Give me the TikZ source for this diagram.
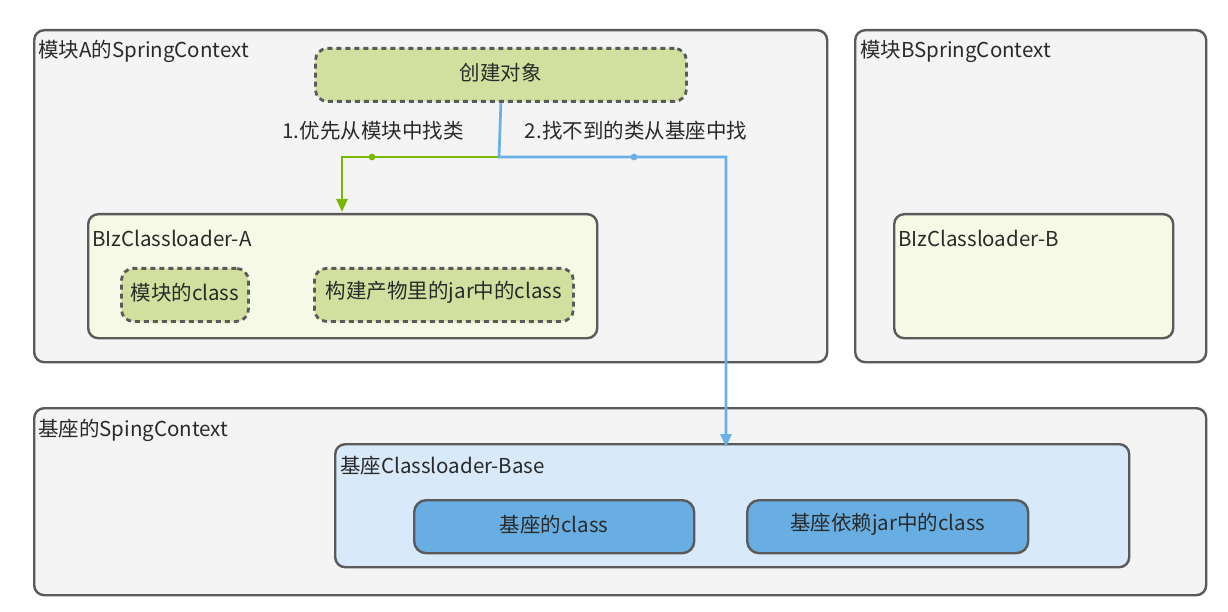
\documentclass[tikz,border=0pt]{standalone}
\usepackage{fontspec}
\setmainfont{Noto Sans CJK SC}
\usetikzlibrary{arrows.meta,calc}
\definecolor{ctxfill}{HTML}{F4F4F4}
\definecolor{bord}{HTML}{5A5A5A}
\definecolor{gfill}{HTML}{D1DF9F}
\definecolor{lgfill}{HTML}{F6F9E6}
\definecolor{lbfill}{HTML}{D8E9F9}
\definecolor{bfill}{HTML}{68AEE2}
\definecolor{txt}{HTML}{2A2A2A}
\definecolor{gline}{HTML}{7AB800}
\definecolor{bline}{HTML}{6AB0E6}
\tikzset{
  x=1pt, y=-1pt,
  every node/.style={text=txt, font=\fontsize{20.5}{24}\selectfont, inner sep=0pt},
  ctxbox/.style={draw=bord, line width=2.4pt, fill=ctxfill, rounded corners=10pt, anchor=north west},
  loaderbox/.style={draw=bord, line width=2.4pt, rounded corners=10pt, anchor=north west},
  dashbox/.style={draw=bord, line width=2.8pt, fill=gfill, rounded corners=12pt, dash pattern=on 5pt off 4pt, anchor=north west},
  bluebox/.style={draw=bord, line width=2.4pt, fill=bfill, rounded corners=12pt, anchor=north west},
  lbl/.style={anchor=west},
  ctext/.style={yshift=2.5pt},
  gconn/.style={draw=gline, line width=2.7pt},
  bconn/.style={draw=bline, line width=2.7pt},
  tip/.style={-{Triangle[length=13pt,width=11pt]}}
}
\begin{document}
\begin{tikzpicture}
\useasboundingbox[fill=white] (0,0) rectangle (1228,612);
% contexts
\node[ctxbox, minimum width=793pt, minimum height=332pt] (ctxA) at (33,29) {};
\node[lbl] (ctxAl) at (38,51) {模块A的SpringContext};
\node[ctxbox, minimum width=351pt, minimum height=332pt] (ctxB) at (854,29) {};
\node[lbl] (ctxBl) at (860,51) {模块BSpringContext};
\node[ctxbox, minimum width=1172pt, minimum height=187pt] (ctxBase) at (33,407) {};
\node[lbl] (ctxBasel) at (38,430) {基座的SpingContext};
% create node
\node[dashbox, minimum width=371pt, minimum height=53pt] (create) at (314,47) {};
\node[ctext] (createl) at (create.center) {创建对象};
% loader A
\node[loaderbox, fill=lgfill, minimum width=509pt, minimum height=124pt] (loaderA) at (87,213) {};
\node[lbl] (loaderAl) at (92,238) {BIzClassloader-A};
\node[dashbox, minimum width=127pt, minimum height=53pt] (modcls) at (120,267) {};
\node[ctext] (modclsl) at (modcls.center) {模块的class};
\node[dashbox, minimum width=259pt, minimum height=53pt] (jarcls) at (313,267) {};
\node[ctext] (jarclsl) at (jarcls.center) {构建产物里的jar中的class};
% loader B
\node[loaderbox, fill=lgfill, minimum width=279pt, minimum height=124pt] (loaderB) at (893,213) {};
\node[lbl] (loaderBl) at (898,238) {BIzClassloader-B};
% base loader
\node[loaderbox, fill=lbfill, minimum width=794pt, minimum height=123pt] (loaderBase) at (334,443) {};
\node[lbl] (loaderBasel) at (340,466) {基座Classloader-Base};
\node[bluebox, minimum width=280pt, minimum height=53pt] (basecls) at (413,499) {};
\node[ctext] (baseclsl) at (basecls.center) {基座的class};
\node[bluebox, minimum width=281pt, minimum height=53pt] (basejar) at (746,499) {};
\node[ctext] (basejarl) at (basejar.center) {基座依赖jar中的class};
% connectors
\coordinate (j) at (499,157);
\coordinate (gend) at (342,212);
\coordinate (bend) at (726,447);
\draw[gconn, tip] (j) -| (gend);
\draw[bconn, tip] (create.south) -- (j) -| (bend);
\fill[gline] (372,157) circle (3.4pt);
\fill[bline] (634,157) circle (3.4pt);
\node (l1) at (373,131) {1.优先从模块中找类};
\node (l2) at (636,131) {2.找不到的类从基座中找};
\end{tikzpicture}
\end{document}
